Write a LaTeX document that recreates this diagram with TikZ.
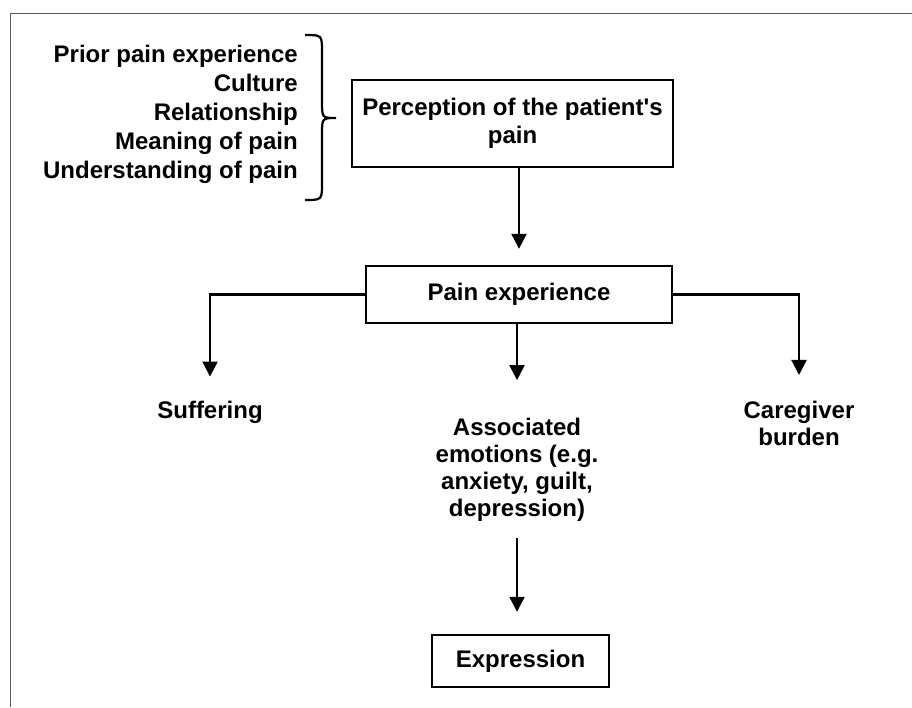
\documentclass[tikz,border=0pt]{standalone}
\usepackage{fontspec}
\setmainfont{Liberation Sans}
\usepackage{tikz}
\usetikzlibrary{arrows.meta}

\tikzset{
  caja/.style={draw, line width=2.4pt, inner sep=0pt, align=center, font=\bfseries\fontsize{24}{28}\selectfont},
  texto/.style={inner sep=0pt, align=center, font=\bfseries\fontsize{24}{27}\selectfont},
  flecha/.style={line width=2.2pt, -{Triangle[length=15pt,width=15pt]}}
}

\begin{document}
\begin{tikzpicture}[x=1pt,y=-1pt]
            \useasboundingbox (0,0) rectangle (912,707);

            % Marco exterior
            \draw[line width=1pt, black!65] (912,13) -- (10,13) -- (10,707);

            % Factores a la izquierda y su llave
            \node[texto, align=right, anchor=east, font=\bfseries\fontsize{24}{29}\selectfont] (factores) at (298,114)
                {Prior pain experience\\Culture\\Relationship\\Meaning of pain\\Understanding of pain};
            \draw[line width=2.2pt] (305,35) .. controls (322,35) .. (322,52) -- (322,101)
                .. controls (322,118) .. (336,118) .. controls (322,118) .. (322,135)
                -- (322,183) .. controls (322,200) .. (305,200);

            % Cajas
            \node[caja, minimum width=321pt, minimum height=87pt] (percepcion) at (512.5,123.5)
                {Perception of the patient\textquotesingle s\\pain};
            \node[caja, minimum width=306pt, minimum height=57pt] (dolor) at (519,294.5) {Pain experience};
            \node[caja, minimum width=177pt, minimum height=52pt] (expresion) at (520.5,661) {Expression};

            % Consecuencias
            \node[texto] (sufrimiento) at (210,412) {Suffering};
            \node[texto] (emociones) at (517,470) {Associated\\emotions (e.g.\\anxiety, guilt,\\depression)};
            \node[texto] (carga) at (799,423.5) {Caregiver\\burden};

            % Flechas
            \draw[flecha, shorten >=16pt] (percepcion.south -| dolor.north) -- (dolor.north);
            \draw[flecha, shorten >=24pt] (dolor.west) -| (sufrimiento.north);
            \draw[flecha, shorten >=26pt] (dolor.east) -| (carga.north);
            \draw[flecha, shorten >=38pt] (dolor.south -| emociones.north) -- (emociones.north);
            \draw[flecha, shorten <=16pt, shorten >=22pt] (emociones.south) -- (emociones.south |- expresion.north);
\end{tikzpicture}
\end{document}
